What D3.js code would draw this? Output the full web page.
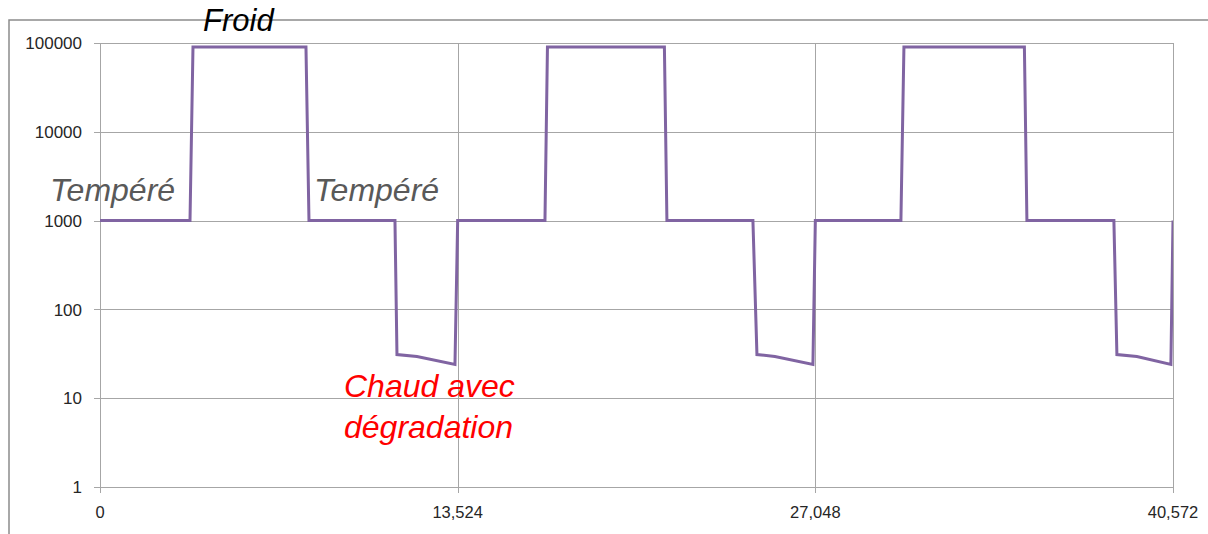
<!DOCTYPE html>
<html>
<head>
<meta charset="utf-8">
<script src="https://cdn.jsdelivr.net/npm/d3@7"></script>
<style>
  html, body { margin: 0; padding: 0; background: #fff; }
  svg { display: block; }
</style>
</head>
<body>
<svg id="chart" width="1208" height="534"></svg>
<script>
// ---- data ----
const xValues = [
  0, 3403, 3516, 7788, 7902, 11153, 11229, 11985, 13422, 13524,
  16825, 16919, 21341, 21436, 24688, 24840, 25520, 26957, 27048,
  30284, 30398, 34953, 35048, 38337, 38451, 39207, 40492, 40572
];
const yValues = [
  1000, 1000, 90000, 90000, 1000, 1000, 31, 29.5, 24, 1000,
  1000, 90000, 90000, 1000, 1000, 31, 29.5, 24, 1000,
  1000, 90000, 90000, 1000, 1000, 31, 29.5, 24, 1000
];
const yTicks = [1, 10, 100, 1000, 10000, 100000];
const xTicks = [0, 13524, 27048, 40572];
const xTickLabels = ["0", "13,524", "27,048", "40,572"];
const annotations = [
  { lines: ["Froid"], x: 203, y: 31, color: "#000000", size: 31 },
  { lines: ["Tempéré"], x: 50, y: 201, color: "#595959", size: 32 },
  { lines: ["Tempéré"], x: 314, y: 201, color: "#595959", size: 32 },
  { lines: ["Chaud avec", "dégradation"], x: 344, y: 397, color: "#ff0000", size: 32 }
];

// ---- layout ----
const plotL = 100, plotR = 1173, plotT = 43, plotB = 487;
const svg = d3.select("#chart");
const font = "'Liberation Sans', Arial, sans-serif";

const x = d3.scaleLinear().domain([0, 40572]).range([plotL, plotR]);
const y = d3.scaleLog().domain([1, 100000]).range([plotB, plotT]);

// outer chart border (partially visible)
svg.append("path")
  .attr("d", "M9,534 L9,20 L1208,20")
  .attr("fill", "none")
  .attr("stroke", "#8c8c8c")
  .attr("stroke-width", 1.5);

// horizontal gridlines
svg.append("g").selectAll("line").data(yTicks).join("line")
  .attr("x1", plotL - 6).attr("x2", plotR)
  .attr("y1", d => Math.round(y(d)) + 0.5).attr("y2", d => Math.round(y(d)) + 0.5)
  .attr("stroke", "#a6a6a6").attr("stroke-width", 1);

// vertical gridlines + ticks
svg.append("g").selectAll("line").data(xTicks).join("line")
  .attr("x1", d => Math.round(x(d)) + 0.5).attr("x2", d => Math.round(x(d)) + 0.5)
  .attr("y1", plotT).attr("y2", plotB + 6)
  .attr("stroke", "#a6a6a6").attr("stroke-width", 1);

// y labels
svg.append("g").selectAll("text").data(yTicks).join("text")
  .attr("x", 82).attr("y", d => y(d))
  .attr("dy", "0.36em")
  .attr("text-anchor", "end")
  .attr("font-family", font).attr("font-size", 17)
  .attr("fill", "#262626")
  .text(d => String(d));

// x labels
svg.append("g").selectAll("text").data(xTicks).join("text")
  .attr("x", d => x(d)).attr("y", 518)
  .attr("text-anchor", "middle")
  .attr("font-family", font).attr("font-size", 16.5)
  .attr("fill", "#262626")
  .text((d, i) => xTickLabels[i]);

// clip for series
svg.append("clipPath").attr("id", "plotclip")
  .append("rect").attr("x", plotL - 2).attr("y", 0).attr("width", plotR - plotL + 2).attr("height", 534);

const pts = xValues.map((v, i) => [v, yValues[i]]);
const line = d3.line().x(d => x(d[0])).y(d => y(d[1]));
svg.append("path")
  .datum(pts)
  .attr("clip-path", "url(#plotclip)")
  .attr("d", line)
  .attr("fill", "none")
  .attr("stroke", "#8064a2")
  .attr("stroke-width", 3)
  .attr("stroke-linejoin", "miter");

// annotations
annotations.forEach(a => {
  const t = svg.append("text")
    .attr("font-family", font)
    .attr("font-style", "italic")
    .attr("font-size", a.size)
    .attr("fill", a.color);
  a.lines.forEach((l, i) => {
    t.append("tspan").attr("x", a.x).attr("y", a.y + i * 41).text(l);
  });
});
</script>
</body>
</html>
